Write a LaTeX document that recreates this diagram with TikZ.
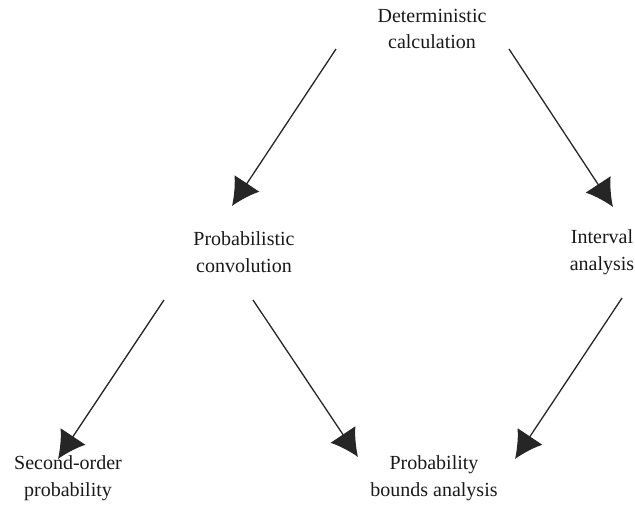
\documentclass[tikz,border=0pt]{standalone}
\usepackage{fontspec}
\setmainfont{Liberation Serif}
\usetikzlibrary{arrows.meta}
\begin{document}
\begin{tikzpicture}[x=1pt,y=-1pt,
  lbl/.style={align=center,font=\fontsize{20}{26.5}\selectfont,text=black!90,inner sep=0pt},
  arr/.style={draw=black!85,line width=1.3pt,-{Latex[length=27pt,width=30pt]}}]
\useasboundingbox (0,0) rectangle (635,524);
\node[lbl] (det) at (432,29) {Deterministic\\calculation};
\node[lbl] (prob) at (244,252) {Probabilistic\\convolution};
\node[lbl] (int) at (602,252) {Interval\\analysis};
\node[lbl] (sec) at (68,478) {Second-order\\probability};
\node[lbl] (pba) at (434,478) {Probability\\bounds analysis};
\coordinate (a1s) at (336,49);
\coordinate (a1e) at (232,206);
\coordinate (a2s) at (509,49);
\coordinate (a2e) at (613,207);
\coordinate (a3s) at (164,300);
\coordinate (a3e) at (58,459);
\coordinate (a4s) at (253,300);
\coordinate (a4e) at (358,457);
\coordinate (a5s) at (622,298);
\coordinate (a5e) at (515,459);
\draw[arr] (a1s) -- (a1e);
\draw[arr] (a2s) -- (a2e);
\draw[arr] (a3s) -- (a3e);
\draw[arr] (a4s) -- (a4e);
\draw[arr] (a5s) -- (a5e);
\end{tikzpicture}
\end{document}
